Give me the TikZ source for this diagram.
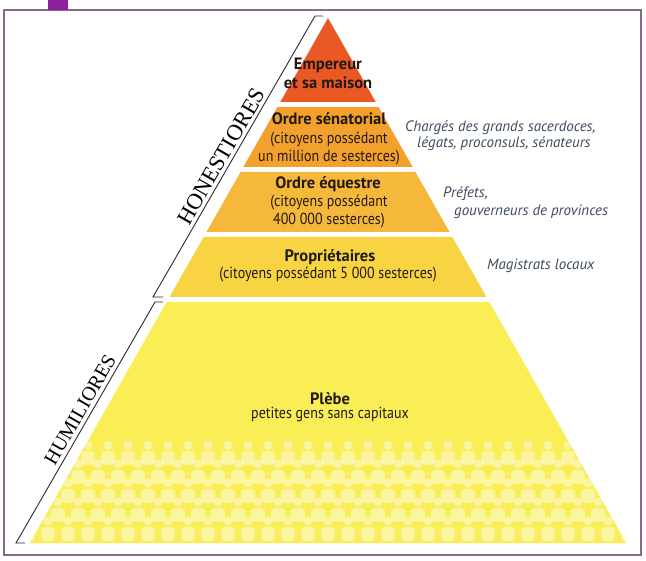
\documentclass[tikz,border=0pt]{standalone}
\usepackage{fontspec}
\usetikzlibrary{calc}
\setmainfont{PT Sans}
\newfontfamily\condfont[FakeStretch=0.875]{PT Sans}
\newfontfamily\latinfont{Liberation Serif}
\definecolor{framec}{HTML}{8A6A8C}
\definecolor{tabc}{HTML}{8E1E9E}
\definecolor{cemp}{HTML}{EA5825}
\definecolor{csen}{HTML}{F2A12C}
\definecolor{cequ}{HTML}{F5B83A}
\definecolor{cpro}{HTML}{F8D443}
\definecolor{cple}{HTML}{F9EE55}
\definecolor{labc}{HTML}{221A12}
\definecolor{notec}{HTML}{3E4A5E}
\definecolor{brkc}{HTML}{2A2A35}
\begin{document}
\begin{tikzpicture}[x=1pt,y=-1pt,
  lab/.style={font=\condfont\fontsize{16}{18}\selectfont, text=labc, inner sep=0pt},
  tit/.style={font=\bfseries\fontsize{16.5}{18}\selectfont, text=labc, inner sep=0pt},
  note/.style={font=\itshape\fontsize{15}{17}\selectfont, text=notec, inner sep=0pt, anchor=west},
  latin/.style={font=\latinfont\fontsize{20}{22}\selectfont, text=black, inner sep=0pt, rotate=60, anchor=south},
  brk/.style={draw=brkc, line width=0.9pt},
  fig/.style={fill=white, opacity=0.45}]
\def\s{0.568}
\def\xl#1{{328-\s*(#1-18)}}
\def\xr#1{{328+\s*(#1-18)}}
\useasboundingbox (0,0) rectangle (646,561);
\fill[white] (0,0) rectangle (646,561);
\draw[framec, line width=1.2pt] (4,10) rectangle (641,555);
\fill[tabc] (48,0) rectangle (68,10);
% bands
\fill[cemp] (328,18) -- (\xr{102},102) -- (\xl{102},102) -- cycle;
\fill[csen] (\xl{107},107) -- (\xr{107},107) -- (\xr{167},167) -- (\xl{167},167) -- cycle;
\fill[cequ] (\xl{172},172) -- (\xr{172},172) -- (\xr{232},232) -- (\xl{232},232) -- cycle;
\fill[cpro] (\xl{237},237) -- (\xr{237},237) -- (\xr{297},297) -- (\xl{297},297) -- cycle;
\fill[cple] (\xl{302},302) -- (\xr{302},302) -- (\xr{543},543) -- (\xl{543},543) -- cycle;
% crowd
\begin{scope}
\clip (\xl{302},302) -- (\xr{302},302) -- (\xr{543},543) -- (\xl{543},543) -- cycle;
\foreach \r in {0,...,4}{
  \foreach \i in {0,...,30}{
    \pgfmathsetmacro\xx{28+\i*20+mod(\r,2)*10}
    \pgfmathsetmacro\yy{445+\r*19}
    \fill[fig] (\xx,\yy) circle (4.5);
    \fill[fig, rounded corners=4] (\xx-7,\yy+6) rectangle (\xx+7,\yy+20);
  }
}
\end{scope}
% labels
\node[tit] (emp1) at (328,65) {Empereur};
\node[tit] (emp2) at (328,83) {et sa maison};
\node[tit] (sen1) at (329,119) {Ordre sénatorial};
\node[lab] (sen2) at (329,140) {(citoyens possédant};
\node[lab] (sen3) at (329,158) {un million de sesterces)};
\node[tit] (equ1) at (328,184) {Ordre équestre};
\node[lab] (equ2) at (329,203) {(citoyens possédant};
\node[lab] (equ3) at (329,221) {400 000 sesterces)};
\node[tit] (pro1) at (330,257) {Propriétaires};
\node[lab] (pro2) at (328,275) {(citoyens possédant 5 000 sesterces)};
\node[tit] (ple1) at (330,399) {Plèbe};
\node[lab] (ple2) at (330,415) {petites gens sans capitaux};
% notes
\node[note] (n1) at (405,128) {Chargés des grands sacerdoces,};
\node[note] (n2) at (417,144) {légats, proconsuls, sénateurs};
\node[note] (n3) at (443,194) {Préfets,};
\node[note] (n4) at (454,212) {gouverneurs de provinces};
\node[note] (n5) at (487,266) {Magistrats locaux};
% brackets
\coordinate (h1) at (323,16);
\coordinate (h2) at (315,16);
\coordinate (h3) at (153,297);
\coordinate (h4) at (163,297);
\draw[brk] (h1) -- (h2) -- (h3) -- (h4);
\coordinate (u1) at (163,302);
\coordinate (u2) at (155,302);
\coordinate (u3) at (16,543);
\coordinate (u4) at (25,543);
\draw[brk] (u1) -- (u2) -- (u3) -- (u4);
\node[latin, font=\latinfont\fontsize{22.5}{24}\selectfont] (hon) at ($(h2)!0.52!(h3)+(-2.6,-1.5)$) {HONESTIORES};
\node[latin] (hum) at ($(u2)!0.47!(u3)+(-3.5,-2)$) {HUMILIORES};
\end{tikzpicture}
\end{document}
